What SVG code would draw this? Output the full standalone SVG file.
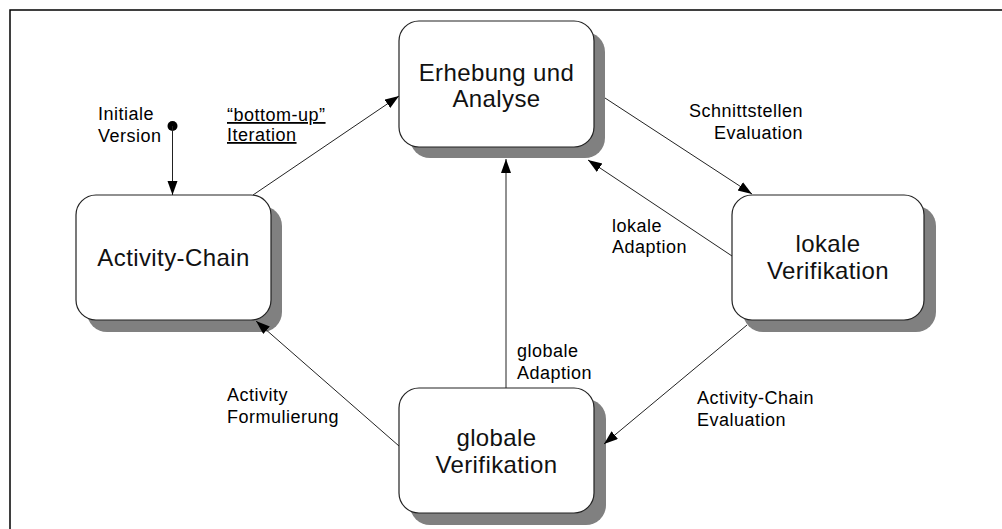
<svg xmlns="http://www.w3.org/2000/svg" width="1002" height="529" viewBox="0 0 1002 529">
<style>
.shadow{fill:#808080;stroke:none}
.box{fill:#ffffff;stroke:#222222;stroke-width:1.2}
.node{font-family:"Liberation Sans",Arial,sans-serif;font-size:24px;letter-spacing:0.4px;fill:#111111;text-anchor:middle}
.lbl{font-family:"Liberation Sans",Arial,sans-serif;font-size:18px;letter-spacing:0.5px;fill:#000000}
.conn{stroke:#222222;stroke-width:1;fill:none;marker-end:url(#arrow)}
</style>
<defs>
<marker id="arrow" markerUnits="userSpaceOnUse" markerWidth="15" markerHeight="11" refX="14" refY="5" orient="auto">
<path d="M0,0 L14,5 L0,10 z" fill="#000000"/>
</marker>
</defs>
<rect x="0" y="0" width="1002" height="529" fill="#ffffff"/>
<path d="M10,529 V10 H1002" fill="none" stroke="#000000" stroke-width="1.5"/>

<g id="labels">
<text class="lbl" x="98" y="120">Initiale</text>
<text class="lbl" x="98" y="142">Version</text>
<text class="lbl" x="227" y="121" text-decoration="underline">“bottom-up”</text>
<text class="lbl" x="227" y="141" text-decoration="underline">Iteration</text>
<text class="lbl" x="803" y="117" text-anchor="end">Schnittstellen</text>
<text class="lbl" x="803" y="139" text-anchor="end">Evaluation</text>
<text class="lbl" x="612" y="232">lokale</text>
<text class="lbl" x="612" y="253">Adaption</text>
<text class="lbl" x="517" y="357">globale</text>
<text class="lbl" x="517" y="379">Adaption</text>
<text class="lbl" x="227" y="401">Activity</text>
<text class="lbl" x="227" y="423">Formulierung</text>
<text class="lbl" x="697" y="404">Activity-Chain</text>
<text class="lbl" x="697" y="426">Evaluation</text>
</g>

<g id="node-erhebung">
<rect class="shadow" x="410" y="32" width="195" height="126" rx="20"/>
<rect class="box" x="399" y="21" width="195" height="126" rx="20"/>
<text class="node" x="496.5" y="81">Erhebung und</text>
<text class="node" x="496.5" y="107">Analyse</text>
</g>

<g id="node-activity-chain">
<rect class="shadow" x="87" y="206" width="195" height="126" rx="20"/>
<rect class="box" x="76" y="195" width="195" height="125" rx="20"/>
<text class="node" x="173.5" y="266">Activity-Chain</text>
</g>

<g id="node-lokale">
<rect class="shadow" x="743" y="206" width="193" height="126" rx="20"/>
<rect class="box" x="732" y="195" width="192" height="125" rx="20"/>
<text class="node" x="828" y="252">lokale</text>
<text class="node" x="828" y="279">Verifikation</text>
</g>

<g id="node-globale">
<rect class="shadow" x="410" y="399" width="196" height="126" rx="20"/>
<rect class="box" x="399" y="388" width="195" height="125" rx="20"/>
<text class="node" x="496.5" y="446">globale</text>
<text class="node" x="496.5" y="473">Verifikation</text>
</g>

<g id="connectors">
<circle cx="172.5" cy="126" r="5" fill="#000000"/>
<line class="conn" x1="172.5" y1="126" x2="172.5" y2="195"/>
<line class="conn" x1="253" y1="195" x2="399" y2="96"/>
<line class="conn" x1="605" y1="98" x2="752" y2="194"/>
<line class="conn" x1="732" y1="256" x2="588" y2="160"/>
<line class="conn" x1="506" y1="388" x2="506" y2="159"/>
<line class="conn" x1="747" y1="325" x2="604" y2="444"/>
<line class="conn" x1="399" y1="446" x2="256" y2="321"/>
</g>
</svg>
